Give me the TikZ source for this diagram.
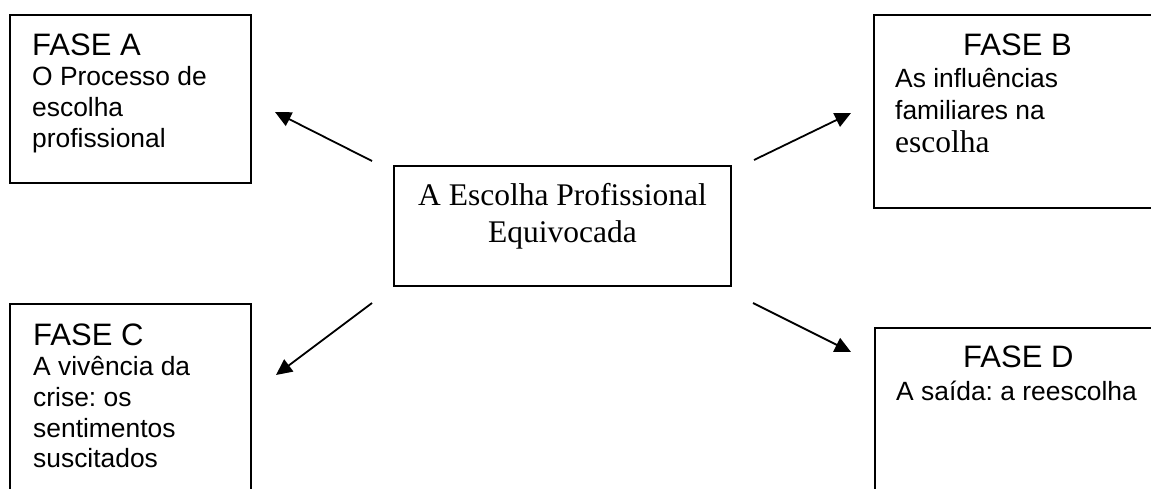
\documentclass[tikz,border=0pt]{standalone}
\usepackage{fontspec}
\setmainfont{Liberation Serif}
\newfontfamily\arialf{Liberation Sans}
\usetikzlibrary{arrows.meta}
\frenchspacing
\tikzset{
  box/.style={draw=black, line width=1.9pt, fill=none, inner sep=0pt},
  ttl/.style={anchor=base west, inner sep=0pt, font=\arialf\fontsize{31}{36}\selectfont},
  bdy/.style={anchor=base west, inner sep=0pt, font=\arialf\fontsize{26.4}{31}\selectfont},
  srf/.style={anchor=base, inner sep=0pt, font=\fontsize{31.5}{37}\selectfont},
  conn/.style={line width=1.8pt, -{Triangle[length=16pt,width=15pt]}}
}
\begin{document}
\begin{tikzpicture}[x=1pt,y=-1pt]
\useasboundingbox (0,0) rectangle (1151,489);
\clip (0,0) rectangle (1151,489);
% boxes
\node[box, minimum width=241pt, minimum height=168pt] (boxA) at (130.5,99) {};
\node[box, minimum width=291pt, minimum height=193pt] (boxB) at (1019.5,111.5) {};
\node[box, minimum width=241pt, minimum height=200pt] (boxC) at (130.5,404) {};
\node[box, minimum width=290pt, minimum height=176pt] (boxD) at (1020,416) {};
\node[box, minimum width=337pt, minimum height=120pt] (center) at (562.5,226) {};
% center text
\node[srf] (c1) at (562.5,206) {A Escolha Profissional};
\node[srf] (c2) at (562.5,243) {Equivocada};
% box A
\node[ttl] (a0) at (32,56) {FASE A};
\node[bdy] (a1) at (32,86) {O Processo de};
\node[bdy] (a2) at (32,117) {escolha};
\node[bdy] (a3) at (32,148) {profissional};
% box B
\node[ttl] (b0) at (963,56) {FASE B};
\node[bdy] (b1) at (895,88) {As influências};
\node[bdy] (b2) at (895,120) {familiares na};
\node[anchor=base west, inner sep=0pt, font=\fontsize{31.5}{37}\selectfont] (b3) at (895,153) {escolha};
% box C
\node[ttl] (cc0) at (33,345) {FASE C};
\node[bdy] (cc1) at (33,375) {A vivência da};
\node[bdy] (cc2) at (33,406) {crise: os};
\node[bdy] (cc3) at (33,437) {sentimentos};
\node[bdy] (cc4) at (33,467) {suscitados};
% box D
\node[ttl] (d0) at (963,367) {FASE D};
\node[bdy] (d1) at (896,400) {A saída: a reescolha};
% arrow end points
\coordinate (tA) at (372,161); \coordinate (hA) at (275,112);
\coordinate (tB) at (754,160); \coordinate (hB) at (851,113);
\coordinate (tC) at (372,303); \coordinate (hC) at (276,375);
\coordinate (tD) at (753,303); \coordinate (hD) at (851,352);
\draw[conn] (tA) -- (hA);
\draw[conn] (tB) -- (hB);
\draw[conn] (tC) -- (hC);
\draw[conn] (tD) -- (hD);
\end{tikzpicture}
\end{document}
